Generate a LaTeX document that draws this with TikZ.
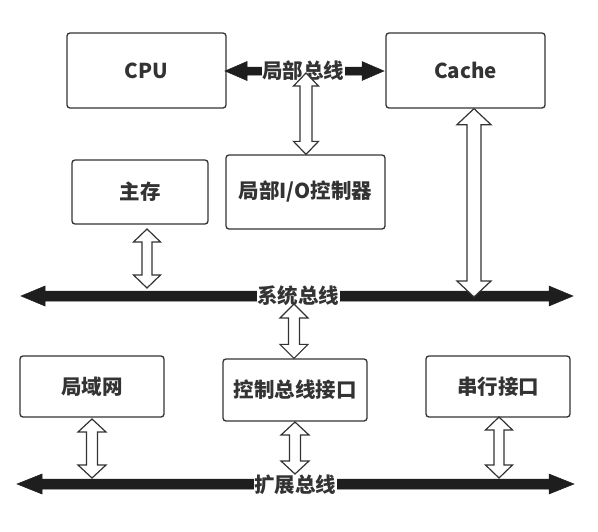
\documentclass[tikz,border=0pt]{standalone}
\usepackage{fontspec}
\setmainfont{Noto Sans CJK SC}
\usetikzlibrary{calc}
\definecolor{ink}{HTML}{333333}
\definecolor{bar}{HTML}{1E1E1E}
\tikzset{
  box/.style={draw=ink, line width=1.3pt, rounded corners=3pt, fill=white, font=\fontsize{20.5}{22}\selectfont\bfseries, text=ink},
  buslabel/.style={fill=white, inner sep=0.5pt, font=\fontsize{20.5}{22}\selectfont\bfseries, text=ink},
  hollow/.style={draw=ink, line width=1.2pt, fill=white, line join=miter},
  busfill/.style={fill=bar, draw=bar, line width=0.5pt}
}
\newcommand\harrow[5]{%
  \draw[hollow] ($#1$) -- ($#1+(#4,#5)$) -- ($#1+(#3,#5)$) -- ($#2+(#3,-#5)$) -- ($#2+(#4,-#5)$) -- ($#2$) -- ($#2+(-#4,-#5)$) -- ($#2+(-#3,-#5)$) -- ($#1+(-#3,#5)$) -- ($#1+(-#4,#5)$) -- cycle;}
\newcommand\busbar[5]{%
  \path[busfill] ($#1$) -- ($#1+(#5,-#4)$) -- ($#1+(#5,-#3)$) -- ($#2+(-#5,-#3)$) -- ($#2+(-#5,-#4)$) -- ($#2$) -- ($#2+(-#5,#4)$) -- ($#2+(-#5,#3)$) -- ($#1+(#5,#3)$) -- ($#1+(#5,#4)$) -- cycle;}
\begin{document}
\begin{tikzpicture}[x=1pt, y=-1pt]
\useasboundingbox (0,0) rectangle (598,531);
% boxes
\node[box, minimum width=159pt, minimum height=75pt] (cpu) at (146.5,70.5) {CPU};
\node[box, minimum width=159pt, minimum height=75pt] (cache) at (465.5,70.5) {Cache};
\node[box, minimum width=136pt, minimum height=64pt] (mem) at (140,192) {主存};
\node[box, minimum width=159pt, minimum height=74pt] (io) at (305.5,192) {局部I/O控制器};
\node[box, minimum width=144pt, minimum height=61pt] (lan) at (92,386.5) {局域网};
\node[box, minimum width=144pt, minimum height=62pt] (ctl) at (295,390) {控制总线接口};
\node[box, minimum width=144pt, minimum height=61pt] (ser) at (498,386.5) {串行接口};
% bus end points
\coordinate (lbL) at (225,71);
\coordinate (lbR) at (384,71);
\coordinate (sysL) at (21,296);
\coordinate (sysR) at (573,296);
\coordinate (expL) at (17,484);
\coordinate (expR) at (574,484);
% buses
\busbar{(lbL)}{(lbR)}{4}{9.5}{22}
\busbar{(sysL)}{(sysR)}{5}{10}{24}
\busbar{(expL)}{(expR)}{5}{10}{25}
\node[buslabel] (lbl) at (303,71) {局部总线};
\node[buslabel] (sbl) at (298,296) {系统总线};
\node[buslabel] (ebl) at (295,485) {扩展总线};
% attachment points on buses
\coordinate (a1) at (306,73);
\coordinate (a2) at (474,297);
\coordinate (a3) at (147,288);
\coordinate (a4) at (294,304);
\coordinate (a5) at (92,478);
\coordinate (a6) at (295,474);
\coordinate (a7) at (499,478);
% hollow double arrows
\harrow{(a1)}{(a1 |- io.north)}{6}{12.5}{13}
\harrow{(a2 |- cache.south)}{(a2)}{7}{17}{16}
\harrow{(a3 |- 0,229)}{(a3)}{5}{13.5}{13}
\harrow{(a4)}{(a4 |- ctl.north)}{5.5}{14}{14}
\harrow{(a5 |- 0,419)}{(a5)}{5.5}{14}{13}
\harrow{(a6 |- 0,422)}{(a6)}{5.5}{14}{13}
\harrow{(a7 |- 0,417)}{(a7)}{5}{13.5}{13}
\end{tikzpicture}
\end{document}
